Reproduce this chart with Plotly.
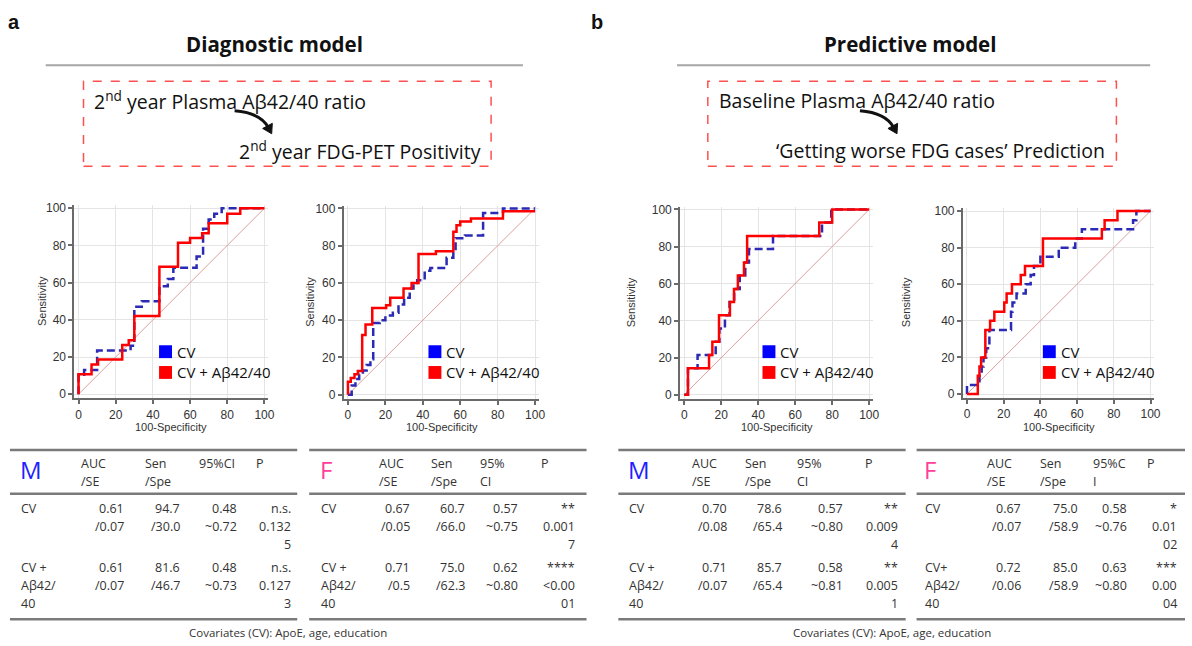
import math
import plotly.graph_objects as go

W, H = 1192, 646

# ---------------- ROC data (100-Specificity, Sensitivity) ----------------
# Panel a, Male (Diagnostic model)
A1_CV_X = [0, 0, 3, 10, 28, 30, 34, 43.5, 48, 51, 63.5, 67, 70, 73, 77, 100]
A1_CV_Y = [0, 10.5, 13, 23.5, 26, 47, 50, 58, 62, 68, 74, 89, 94, 97, 100, 100]
A1_AB_X = [0, 0, 7, 10.5, 23.5, 27, 30, 43.5, 53.5, 60, 66.5, 70, 80, 87, 100]
A1_AB_Y = [0, 10.7, 16, 18.7, 26.5, 29, 42, 68.5, 81.5, 84, 86.5, 92, 97, 100, 100]
# Panel a, Female
A2_CV_X = [0, 2, 4, 6, 8, 10, 12, 13.5, 17, 20, 24, 27, 30, 33, 35, 37, 41, 44, 52.7, 56.3, 57.5, 62.5, 72.2, 82.8, 100]
A2_CV_Y = [0, 5, 8.5, 11, 13, 16, 19, 38.5, 40, 42.5, 44, 48.5, 52, 57, 60, 61.5, 66.5, 68, 73.5, 76, 84, 85.5, 97.5, 100, 100]
A2_AB_X = [0, 0, 1.5, 3.5, 5.3, 7.6, 9.4, 13, 20.4, 22.6, 29.7, 34, 37.7, 47, 56.3, 58, 60, 65.7, 82.8, 100]
A2_AB_Y = [0, 7, 9, 11, 12.7, 32, 37.7, 46.6, 48, 52, 57, 60, 75.5, 77, 87.5, 91, 93, 94.6, 98.5, 98.5]
# Panel b, Male (Predictive model)
B1_CV_X = [0, 2, 7.2, 17, 19, 22, 24.5, 27, 30, 33, 35, 48, 74.5, 79.5, 100]
B1_CV_Y = [0, 14.3, 21.4, 28.6, 35.7, 42.9, 50, 57.1, 64.3, 71.4, 78.6, 85.7, 92.9, 100, 100]
B1_AB_X = [0, 2, 13.4, 15.2, 18.8, 24.7, 26.9, 29, 32.3, 34, 73, 80, 100]
B1_AB_Y = [0, 14.3, 21.4, 28.6, 42.9, 50, 57.1, 64.3, 71.4, 85.7, 92.9, 100, 100]
# Panel b, Female
B2_CV_X = [0, 0, 6.8, 8, 9, 10.5, 12.2, 24, 24.8, 27, 32, 34.7, 36.5, 40, 50, 59, 62.6, 90.5, 92.3, 100]
B2_CV_Y = [0, 5, 10, 15, 20, 25, 35, 45, 50, 55, 60, 65, 70, 75, 80, 85, 90, 95, 100, 100]
B2_AB_X = [0, 5.9, 6.8, 7.7, 10, 12.6, 14.9, 20.3, 21.6, 24.5, 29.3, 31.6, 41.4, 73.5, 75, 82, 100]
B2_AB_Y = [0, 10, 15, 20, 35, 40, 45, 50, 55, 60, 65, 70, 85, 90, 95, 100, 100]

TICKS = [0, 20, 40, 60, 80, 100]
SERIES_NAMES = ["CV", "CV + Aβ42/40"]

# ---------------- Table texts ----------------
A_M_HEAD = [["AUC", "/SE"], ["Sen", "/Spe"], ["95%CI"], ["P"]]
A_M_ROW1 = [["CV"], ["0.61", "/0.07"], ["94.7", "/30.0"], ["0.48", "~0.72"], ["n.s.", "0.132", "5"]]
A_M_ROW2 = [["CV +", "Aβ42/", "40"], ["0.61", "/0.07"], ["81.6", "/46.7"], ["0.48", "~0.73"], ["n.s.", "0.127", "3"]]

A_F_HEAD = [["AUC", "/SE"], ["Sen", "/Spe"], ["95%", "CI"], ["P"]]
A_F_ROW1 = [["CV"], ["0.67", "/0.05"], ["60.7", "/66.0"], ["0.57", "~0.75"], ["**", "0.001", "7"]]
A_F_ROW2 = [["CV +", "Aβ42/", "40"], ["0.71", "/0.5"], ["75.0", "/62.3"], ["0.62", "~0.80"], ["****", "<0.00", "01"]]

B_M_HEAD = [["AUC", "/SE"], ["Sen", "/Spe"], ["95%", "CI"], ["P"]]
B_M_ROW1 = [["CV"], ["0.70", "/0.08"], ["78.6", "/65.4"], ["0.57", "~0.80"], ["**", "0.009", "4"]]
B_M_ROW2 = [["CV +", "Aβ42/", "40"], ["0.71", "/0.07"], ["85.7", "/65.4"], ["0.58", "~0.81"], ["**", "0.005", "1"]]

B_F_HEAD = [["AUC", "/SE"], ["Sen", "/Spe"], ["95%C", "I"], ["P"]]
B_F_ROW1 = [["CV"], ["0.67", "/0.07"], ["75.0", "/58.9"], ["0.58", "~0.76"], ["*", "0.01", "02"]]
B_F_ROW2 = [["CV+", "Aβ42/", "40"], ["0.72", "/0.06"], ["85.0", "/58.9"], ["0.63", "~0.80"], ["***", "0.00", "04"]]

COVARIATES = "Covariates (CV): ApoE, age, education"

# ---------------- helpers ----------------
def px(x):
    return x / W

def py(y):
    return 1 - y / H

FONT = "Open Sans"
ann = []
shapes = []

def text(x, y, s, size=12, color="#222", xanchor="left", bold=False, family=FONT, yanchor="middle"):
    if bold:
        s = "<b>" + s + "</b>"
    ann.append(dict(x=px(x), y=py(y), xref="paper", yref="paper", text=s, showarrow=False,
                    xanchor=xanchor, yanchor=yanchor, font=dict(size=size, color=color, family=family)))

def hline(x0, x1, y, color="#808080", width=2, dash=None):
    ln = dict(color=color, width=width)
    if dash:
        ln["dash"] = dash
    shapes.append(dict(type="line", xref="paper", yref="paper", x0=px(x0), x1=px(x1),
                       y0=py(y), y1=py(y), line=ln))

def rect(x0, y0, x1, y1, fill=None, line=None):
    d = dict(type="rect", xref="paper", yref="paper", x0=px(x0), x1=px(x1), y0=py(y1), y1=py(y0))
    d["fillcolor"] = fill if fill else "rgba(0,0,0,0)"
    d["line"] = line if line else dict(width=0)
    shapes.append(d)

# ---------------- headers ----------------
text(6, 18, "a", size=20, bold=True, family="Liberation Sans", color="#111")
text(592, 18, "b", size=20, bold=True, family="Liberation Sans", color="#111")
text(276, 40, "Diagnostic model", size=20.5, bold=True, xanchor="center", color="#111")
text(915, 40, "Predictive model", size=20.5, bold=True, xanchor="center", color="#111")
hline(46, 526, 62, color="#a6a6a6", width=2)
hline(681, 1157, 62, color="#a6a6a6", width=2)

red_dash = dict(color="#ff5050", width=1.5, dash="dash")
rect(84, 78, 494, 164, line=red_dash)
rect(712, 78, 1123, 164, line=red_dash)

TS = 19.5
text(93, 98, "2<sup>nd</sup> year Plasma Aβ42/40 ratio", size=TS, color="#111")
text(486, 148, "2<sup>nd</sup> year FDG-PET Positivity", size=TS, color="#111", xanchor="right")
text(721, 98, "Baseline Plasma Aβ42/40 ratio", size=TS, color="#111")
text(1114, 148, "‘Getting worse FDG cases’ Prediction", size=TS, color="#111", xanchor="right")

def curved_arrow(x0, y0, cx, cy, x1, y1):
    shapes.append(dict(type="path", xref="paper", yref="paper",
                       path=f"M {px(x0)},{py(y0)} Q {px(cx)},{py(cy)} {px(x1)},{py(y1)}",
                       line=dict(color="#111", width=3)))
    dx, dy = x1 - cx, y1 - cy
    n = math.hypot(dx, dy)
    ux, uy = dx / n, dy / n
    tipx, tipy = x1 + ux * 7, y1 + uy * 7
    bx, by = x1 - ux * 2, y1 - uy * 2
    lx, ly = bx - uy * 5.5, by + ux * 5.5
    rx, ry = bx + uy * 5.5, by - ux * 5.5
    shapes.append(dict(type="path", xref="paper", yref="paper",
                       path=f"M {px(tipx)},{py(tipy)} L {px(lx)},{py(ly)} L {px(rx)},{py(ry)} Z",
                       fillcolor="#111", line=dict(color="#111", width=1)))

curved_arrow(236, 108, 262, 110, 270, 125)
curved_arrow(865, 108, 891, 110, 899, 125)

# ---------------- ROC panels ----------------
BLUE = "#2a2ab4"
RED = "#ff0000"

panels = [
    dict(x0=79, x100=266, y0=394.5, y100=206.5, cv=(A1_CV_X, A1_CV_Y), ab=(A1_AB_X, A1_AB_Y), ytitle_x=34, leg_x=160),
    dict(x0=350, x100=538.3, y0=395, y100=206.7, cv=(A2_CV_X, A2_CV_Y), ab=(A2_AB_X, A2_AB_Y), ytitle_x=303, leg_x=431),
    dict(x0=688.3, x100=874.3, y0=395, y100=207.7, cv=(B1_CV_X, B1_CV_Y), ab=(B1_AB_X, B1_AB_Y), ytitle_x=635, leg_x=767),
    dict(x0=972.7, x100=1157.3, y0=394.3, y100=209.3, cv=(B2_CV_X, B2_CV_Y), ab=(B2_AB_X, B2_AB_Y), ytitle_x=919, leg_x=1049),
]

fig = go.Figure()
layout_axes = {}
LO, HI = -2.2, 101.5
for i, p in enumerate(panels, start=1):
    sx = (p["x100"] - p["x0"]) / 100
    sy = (p["y100"] - p["y0"]) / 100
    xd = [px(p["x0"] + LO * sx), px(p["x0"] + 102 * sx)]
    yd = [py(p["y0"] + LO * sy), py(p["y0"] + HI * sy)]
    xa = "x" if i == 1 else f"x{i}"
    ya = "y" if i == 1 else f"y{i}"
    common = dict(showgrid=True, gridcolor="#e4e4e4", gridwidth=1, showline=True, linecolor="#6a6a6a",
                  linewidth=2, ticks="outside", ticklen=4, tickwidth=1.5, tickcolor="#6a6a6a",
                  tickvals=TICKS, zeroline=False, fixedrange=True,
                  tickfont=dict(family="Liberation Sans", size=12, color="#333"))
    layout_axes["xaxis" if i == 1 else f"xaxis{i}"] = dict(domain=xd, range=[LO, 102], anchor=ya, **common)
    layout_axes["yaxis" if i == 1 else f"yaxis{i}"] = dict(domain=yd, range=[LO, HI], anchor=xa, **common)

    fig.add_trace(go.Scatter(x=[0, 100], y=[0, 100], mode="lines", xaxis=xa, yaxis=ya,
                             line=dict(color="#dca0a0", width=1), showlegend=False, hoverinfo="skip"))
    fig.add_trace(go.Scatter(x=p["cv"][0], y=p["cv"][1], mode="lines", line_shape="hv", xaxis=xa, yaxis=ya,
                             line=dict(color=BLUE, width=2.5, dash="8px,4px"), name=SERIES_NAMES[0], showlegend=False))
    fig.add_trace(go.Scatter(x=p["ab"][0], y=p["ab"][1], mode="lines", line_shape="hv", xaxis=xa, yaxis=ya,
                             line=dict(color=RED, width=2.5), name=SERIES_NAMES[1], showlegend=False))

    # axis titles
    cy = (p["y0"] + p["y100"]) / 2
    ann.append(dict(x=px(p["ytitle_x"]), y=py(cy), xref="paper", yref="paper", text="Sensitivity",
                    showarrow=False, textangle=-90, font=dict(family="Liberation Sans", size=11, color="#333")))
    cx = (p["x0"] + p["x100"]) / 2
    text(cx, 428, "100-Specificity", size=11, family="Liberation Sans", color="#333", xanchor="center")

    # legend boxes
    lx = p["leg_x"]
    rect(lx, 345, lx + 13, 358, fill="#0000ff")
    rect(lx, 366, lx + 13, 379, fill="#ff0000")
    text(lx + 16, 351.5, SERIES_NAMES[0], size=15, color="#111")
    text(lx + 16, 372.5, SERIES_NAMES[1], size=15, color="#111")

# ---------------- tables ----------------
def draw_table(x_left, x_right, letter, letter_color, head, row1, row2, label_x, head_x, val_r):
    hline(x_left, x_right, 451, color="#7a7a7a", width=2.5)
    hline(x_left, x_right, 495, color="#7a7a7a", width=2.5)
    hline(x_left, x_right, 622, color="#7a7a7a", width=2.5)
    text(label_x - 1, 471, letter, size=24, color=letter_color)
    for j, col in enumerate(head):
        for k, s in enumerate(col):
            text(head_x[j], 465 + 18 * k, s, size=12.5, color="#333")
    for row, y0 in ((row1, 510), (row2, 570)):
        for k, s in enumerate(row[0]):
            text(label_x, y0 + 18 * k, s, size=12.5, color="#333")
        for j, col in enumerate(row[1:]):
            for k, s in enumerate(col):
                text(val_r[j], y0 + 18 * k, s, size=12.5, color="#333", xanchor="right")

draw_table(10, 299, "M", "#1f1fff", A_M_HEAD, A_M_ROW1, A_M_ROW2, 19, [79, 144, 198, 256], [127, 183, 240, 295])
draw_table(311, 590, "F", "#ff3d9a", A_F_HEAD, A_F_ROW1, A_F_ROW2, 321, [379, 432, 481, 542], [414, 470, 523, 580])
draw_table(622, 911, "M", "#1f1fff", B_M_HEAD, B_M_ROW1, B_M_ROW2, 631, [694, 747, 800, 868], [733, 789, 850, 905])
draw_table(922, 1192, "F", "#ff3d9a", B_F_HEAD, B_F_ROW1, B_F_ROW2, 928, [991, 1044, 1097, 1152], [1029, 1086, 1136, 1186])

text(290, 635, COVARIATES, size=11.5, color="#333", xanchor="center")
text(897, 635, COVARIATES, size=11.5, color="#333", xanchor="center")

fig.update_layout(width=W, height=H, margin=dict(l=0, r=0, t=0, b=0), paper_bgcolor="white",
                  plot_bgcolor="white", showlegend=False, annotations=ann, shapes=shapes, **layout_axes)

fig.write_html("out.html", config={"displayModeBar": False},
               post_script="document.body.style.margin='0';document.body.style.overflow='hidden';")
